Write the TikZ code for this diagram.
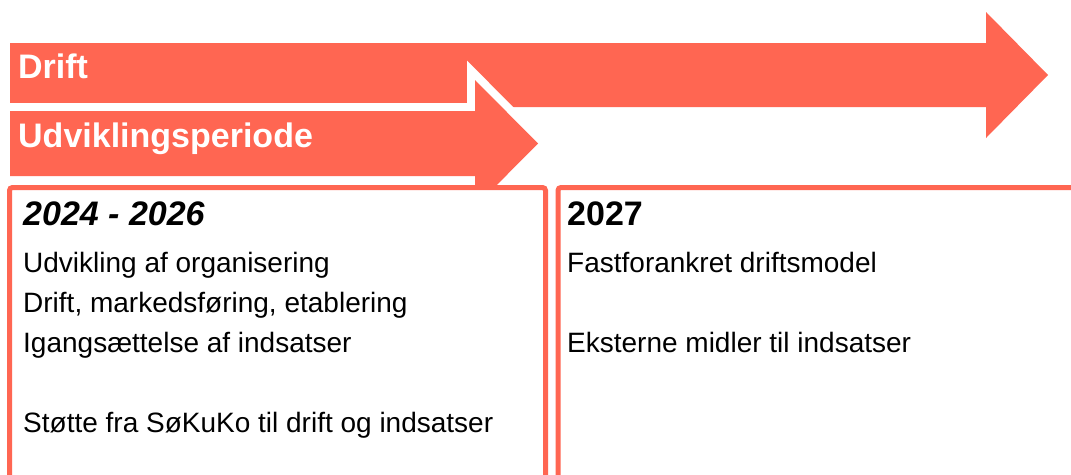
\documentclass[tikz,border=0pt]{standalone}
\usepackage{fontspec}
\setmainfont{Liberation Sans}
\usetikzlibrary{positioning}
\definecolor{tomat}{RGB}{255,102,82}
\tikzset{
  pil/.style={fill=tomat},
  pilkant/.style={pil,preaction={draw=white,line width=16pt}},
  boks/.style={draw=tomat,line width=5pt,fill=white,rounded corners=3pt},
  piltxt/.style={anchor=base west,inner sep=0pt,text=white,font=\fontsize{34}{40}\bfseries\selectfont},
  aar/.style={anchor=base west,inner sep=0pt,font=\fontsize{34}{40}\bfseries\selectfont},
  linje/.style={anchor=base west,inner sep=0pt,font=\fontsize{28}{40}\selectfont}
}

\begin{document}
\begin{tikzpicture}[x=1pt,y=-1pt]
  \clip (0,0) rectangle (1071,474);
  \fill[white] (0,0) rectangle (1071,474);

  % Drift arrow, long one behind
  \path[pil] (10,43) -- (986,43) -- (986,12) -- (1048,75) -- (986,138)
    -- (986,107) -- (10,107) -- cycle;
  \node[piltxt] (drift) at (18,78) {Drift};

  % Udviklingsperiode arrow with white edge
  \path[pilkant] (10,111) -- (475,111) -- (475,80) -- (538,143.5) -- (475,207)
    -- (475,176) -- (10,176) -- cycle;
  \node[piltxt] (udv) at (18,147) {Udviklingsperiode};

  % Period boxes, open at the bottom
  \path[boks] (9.5,500) -- (9.5,187.5) -- (545.5,187.5) -- (545.5,500);
  \path[boks] (558,500) -- (558,187.5) -- (1100,187.5) -- (1100,500);

  % 2024 - 2026
  \node[aar,font=\fontsize{34}{40}\bfseries\itshape\selectfont] (p1) at (23,225) {2024 - 2026};
  \node[linje] (p1a) at (23,272) {Udvikling af organisering};
  \node[linje] (p1b) at (23,312) {Drift, markedsføring, etablering};
  \node[linje] (p1c) at (23,352) {Igangsættelse af indsatser};
  \node[linje] (p1d) at (23,432) {Støtte fra SøKuKo til drift og indsatser};

  % 2027
  \node[aar] (p2) at (567,225) {2027};
  \node[linje] (p2a) at (567,272) {Fastforankret driftsmodel};
  \node[linje] (p2b) at (567,352) {Eksterne midler til indsatser};

\end{tikzpicture}
\end{document}
